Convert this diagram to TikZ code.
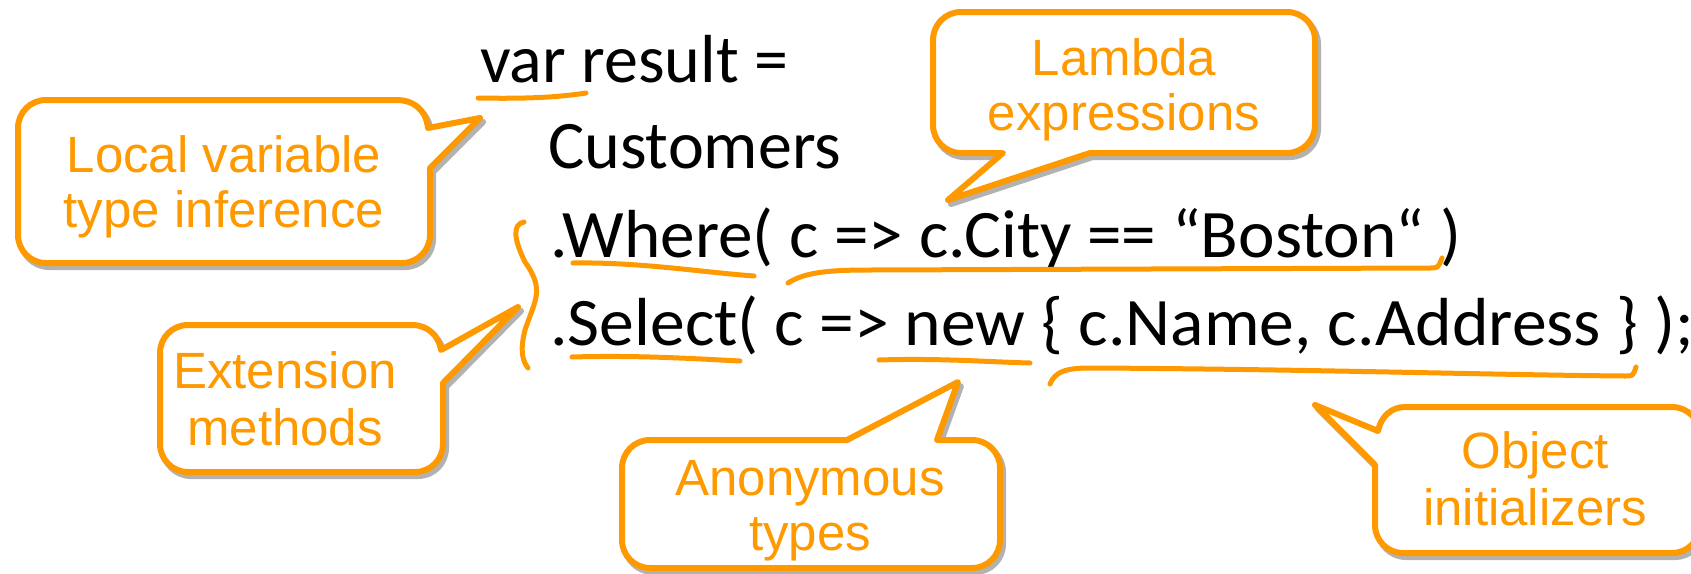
\documentclass[tikz,border=0pt]{standalone}
\usepackage{fontspec}
\usepackage{graphicx}
\newfontfamily\codefont{Carlito}
\newfontfamily\callfont{Liberation Sans}
\definecolor{orng}{HTML}{FF9900}
\begin{document}
\begin{tikzpicture}[x=1pt,y=-1pt]
\tikzset{
  bubble/.style={draw=orng, line width=6pt, fill=white, line join=round},
  bshadow/.style={draw=black!30, line width=6pt, line join=round, shift={(3,4)}},
  ctext/.style={font=\callfont\fontsize{51}{55}\selectfont, text=orng, anchor=base, inner sep=0pt},
  code/.style={font=\codefont\fontsize{68}{80}\selectfont, anchor=base west, inner sep=0pt},
  hl/.style={draw=orng, line width=5pt, line cap=round, line join=round}
}
\useasboundingbox (0,0) rectangle (1691,573);
% paths of the callouts
\def\pathLV{(46,100) -- (396,100) .. controls (414,100) and (426,110) .. (428,128) -- (480,118) -- (430,168) -- (430,235) .. controls (430,250.5) and (417.5,263) .. (402,263) -- (46,263) .. controls (30.5,263) and (18,250.5) .. (18,235) -- (18,128) .. controls (18,112.5) and (30.5,100) .. (46,100) -- cycle}
\def\pathLA{(961,12) -- (1287,12) .. controls (1302.5,12) and (1315,24.5) .. (1315,40) -- (1315,125) .. controls (1315,140.5) and (1302.5,153) .. (1287,153) -- (1090,153) -- (948,200) -- (1003,153) -- (961,153) .. controls (945.5,153) and (933,140.5) .. (933,125) -- (933,40) .. controls (933,24.5) and (945.5,12) .. (961,12) -- cycle}
\def\pathEX{(188,325) -- (412,325) .. controls (428,325) and (439,336) .. (441,350) -- (518,307) -- (443,383) -- (443,444) .. controls (443,459.5) and (430.5,472) .. (415,472) -- (188,472) .. controls (172.5,472) and (160,459.5) .. (160,444) -- (160,353) .. controls (160,337.5) and (172.5,325) .. (188,325) -- cycle}
\def\pathAN{(650,440) -- (847,440) -- (958,382) -- (937,440) -- (972,440) .. controls (987.5,440) and (1000,452.5) .. (1000,468) -- (1000,540) .. controls (1000,555.5) and (987.5,568) .. (972,568) -- (650,568) .. controls (634.5,568) and (622,555.5) .. (622,540) -- (622,468) .. controls (622,452.5) and (634.5,440) .. (650,440) -- cycle}
\def\pathOB{(1405,407) -- (1672,407) .. controls (1687.5,407) and (1700,419.5) .. (1700,435) -- (1700,525) .. controls (1700,540.5) and (1687.5,553) .. (1672,553) -- (1403,553) .. controls (1387.5,553) and (1375,540.5) .. (1375,525) -- (1375,465) -- (1315,405) -- (1378,431) .. controls (1381,416) and (1392,407) .. (1405,407) -- cycle}
% shadows
\draw[bshadow] \pathLV;
\draw[bshadow] \pathLA;
\draw[bshadow] \pathEX;
\draw[bshadow] \pathAN;
\draw[bshadow] \pathOB;
% bubbles
\draw[bubble] \pathLV;
\draw[bubble] \pathLA;
\draw[bubble] \pathEX;
\draw[bubble] \pathAN;
\draw[bubble] \pathOB;
% callout texts
\node[ctext] (lv1) at (224,172) {Local variable};
\node[ctext] (lv2) at (224,227) {type inference};
\node[ctext] (la1) at (1124,75) {Lambda};
\node[ctext] (la2) at (1124,130) {expressions};
\node[ctext] (ex1) at (285,388) {Extension};
\node[ctext] (ex2) at (285,445) {methods};
\node[ctext] (an1) at (810,495) {Anonymous};
\node[ctext] (an2) at (810,550) {types};
\node[ctext] (ob1) at (1535,468) {Object};
\node[ctext] (ob2) at (1535,525) {initializers};
% code
\node[code] (c1) at (480,82) {var result =};
\node[code] (c2) at (548,168) {Customers};
\node[code] (c3) at (550,257) {\scalebox{1.018}[1]{.Where( c => c.City == “Boston“ )}};
\node[code] (c4) at (550,345) {\scalebox{1.024}[1]{.Select( c => new \{ c.Name, c.Address \} );}};
% hand-drawn marks
\draw[hl] (478,98) .. controls (530,99) and (560,97) .. (586,93);
\draw[hl] (573,263) .. controls (640,262) and (700,272) .. (754,276);
\draw[hl] (788,283) .. controls (805,272) and (830,270) .. (870,270) -- (1430,268) .. controls (1438,268) .. (1442,258);
\draw[hl] (572,357) .. controls (640,355) and (700,359) .. (740,361);
\draw[hl] (879,360) .. controls (940,358) and (990,362) .. (1030,363);
\draw[hl] (1050,384) .. controls (1055,372) and (1065,368) .. (1090,368) .. controls (1300,369) and (1500,375) .. (1625,376) .. controls (1633,376) .. (1636,367);
\draw[hl] (524,222) .. controls (512,224) and (514,240) .. (525,262) .. controls (545,290) and (535,300) .. (525,330) .. controls (520,350) and (522,360) .. (528,368);
\end{tikzpicture}
\end{document}
